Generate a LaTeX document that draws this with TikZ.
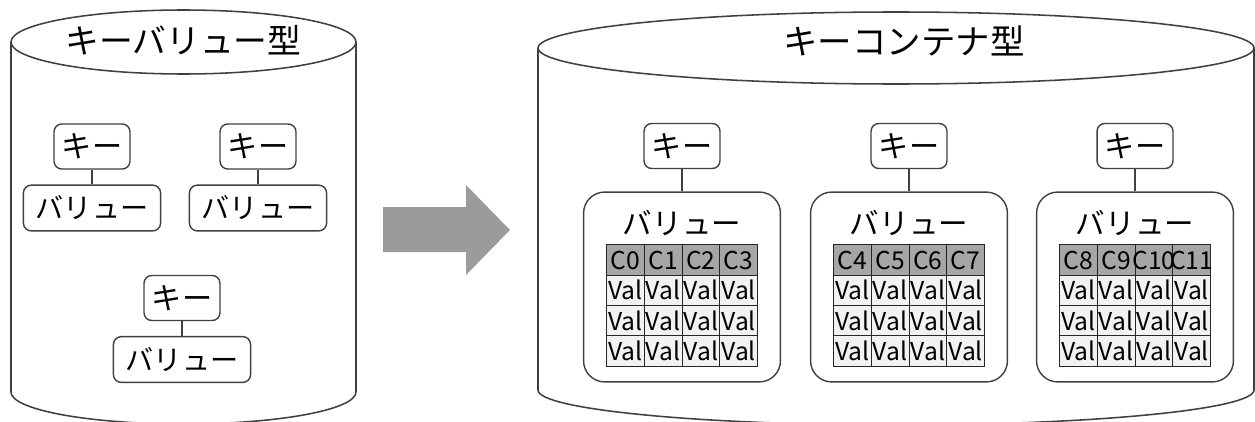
\documentclass[tikz,border=0pt]{standalone}
\usepackage{fontspec}
\setmainfont{Noto Sans CJK JP}
\usetikzlibrary{positioning}

\definecolor{linegray}{HTML}{404040}
\definecolor{arrowgray}{HTML}{9B9B9B}
\definecolor{headgray}{HTML}{A6A6A6}
\definecolor{cellgray}{HTML}{F2F2F2}

\tikzset{
	cyl/.style={draw=linegray, line width=1.1pt},
	keybox/.style={draw=linegray, line width=1pt, rounded corners=5.5pt, fill=white,
		minimum width=54pt, minimum height=32pt, inner sep=0pt, font=\fontsize{21.5}{23}\selectfont},
	valbox/.style={keybox, minimum width=97.5pt, minimum height=32.5pt, font=\fontsize{20}{22}\selectfont},
	bigbox/.style={draw=linegray, line width=1pt, rounded corners=15pt, fill=white,
		minimum width=140pt, minimum height=135pt, inner sep=0pt},
	hdcell/.style={draw=black!85, line width=0.7pt, fill=headgray, minimum width=26.85pt, minimum height=21.55pt, inner sep=0pt},
	vcell/.style={hdcell, fill=cellgray},
	celltext/.style={font=\fontsize{17.5}{19}\selectfont, inner sep=0pt},
	link/.style={draw=linegray, line width=1pt}
}

\begin{document}
\begin{tikzpicture}[x=0.025cm,y=-0.025cm]
	\useasboundingbox (0,0) rectangle (1255,421);
	
	% left store
	\draw[cyl] (11,42) -- (11,392) arc[start angle=180, end angle=0, x radius=172.5, y radius=32] -- (356,42);
	\draw[cyl] (183.5,42) ellipse[x radius=172.5, y radius=32];
	\node[font=\fontsize{24}{26}\selectfont] (kvtitle) at (183.5,40) {キーバリュー型};
	
	\node[keybox] (k1) at (92,146.5) {キー};
	\node[valbox, below=10.5pt of k1] (v1) {バリュー};
	\node[keybox] (k2) at (258,146.5) {キー};
	\node[valbox, below=10.5pt of k2] (v2) {バリュー};
	\node[keybox] (k3) at (182,298) {キー};
	\node[valbox, below=10.5pt of k3] (v3) {バリュー};
	\draw[link] (k1) -- (v1);
	\draw[link] (k2) -- (v2);
	\draw[link] (k3) -- (v3);
	
	% arrow
	\fill[arrowgray] (383,207) -- (466,207) -- (466,185) -- (510,230) -- (466,275) -- (466,252) -- (383,252) -- cycle;
	
	% right store
	\draw[cyl] (538,48) -- (538,390) arc[start angle=180, end angle=0, x radius=358, y radius=35] -- (1254,48);
	\draw[cyl] (896,48) ellipse[x radius=358, y radius=36];
	\node[font=\fontsize{24.5}{26}\selectfont] (kctitle) at (904,41) {キーコンテナ型};
	
	\foreach \g/\cx/\first in {1/682/0, 2/909/4, 3/1135/8} {
		\node[keybox] (ck\g) at (\cx,146) {キー};
		\node[bigbox] (cv\g) at (\cx,287) {};
		\draw[link] (ck\g) -- (cv\g);
		\node[font=\fontsize{21}{23}\selectfont] (cl\g) at (\cx,223) {バリュー};
		\foreach \j in {0,...,3} {
			\pgfmathtruncatemacro\cn{\first+\j}
			\node[hdcell] (h\g\j) at ({\cx-56.6+37.75*\j},260) {};
			\node[celltext] at (h\g\j) {C\cn};
			\foreach \r in {1,2,3} {
				\node[vcell] (c\g\j\r) at ({\cx-56.6+37.75*\j},{260+30.35*\r}) {};
				\node[celltext] at (c\g\j\r) {Val};
			}
		}
	}
	
\end{tikzpicture}
\end{document}
